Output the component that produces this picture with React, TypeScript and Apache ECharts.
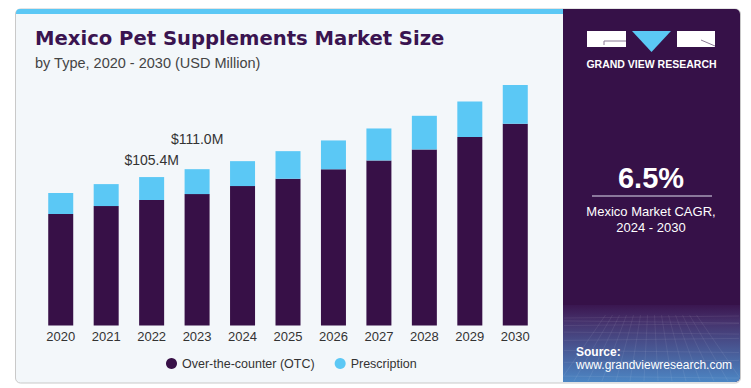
import React, { useEffect, useRef } from "react";
import * as echarts from "echarts";

const years = ["2020", "2021", "2022", "2023", "2024", "2025", "2026", "2027", "2028", "2029", "2030"];
const otc = [79.1, 84.8, 89.1, 93.3, 99.0, 104.2, 110.9, 117.2, 125.0, 133.8, 143.2];
const prescription = [14.9, 15.6, 16.3, 17.7, 17.7, 19.6, 20.5, 22.7, 23.9, 25.3, 27.5];
const labeledYears: Record<string, number> = { "2022": 10, "2023": 23 };

const PURPLE = "#371047";
const CYAN = "#5bc8f5";
const FONT = "'Liberation Sans', Arial, sans-serif";

export default function App() {
  const ref = useRef<HTMLDivElement>(null);
  useEffect(() => {
    if (!ref.current) return;
    const chart = echarts.init(ref.current, null, { renderer: "svg" });

    const gridLines: any[] = [];
    for (let i = 0; i < 9; i++) {
      const y = 318 + i * i * 0.9 + i * 2;
      gridLines.push({
        type: "line",
        shape: { x1: 564, y1: y, x2: 739, y2: y + (i % 2 ? 2 : -2) },
        style: { stroke: "rgba(255,255,255,0.07)", lineWidth: 1 },
        silent: true,
      });
    }
    for (let j = 0; j < 14; j++) {
      const xb = 560 + j * 14;
      gridLines.push({
        type: "line",
        shape: { x1: 651 + (xb - 651) * 0.5, y1: 315, x2: xb, y2: 381 },
        style: { stroke: "rgba(255,255,255,0.07)", lineWidth: 1 },
        silent: true,
      });
    }

    chart.setOption({
      animation: false,
      textStyle: { fontFamily: FONT },
      graphic: [
        {
          type: "rect",
          z: -10,
          shape: { x: 15.5, y: 9, width: 725, height: 374, r: 5 },
          style: { fill: "#f3f7fa", stroke: "#c9c9c9", lineWidth: 1 },
          silent: true,
        },
        {
          type: "rect",
          z: -9,
          shape: { x: 16, y: 9, width: 548, height: 5, r: [4, 0, 0, 0] },
          style: { fill: CYAN },
          silent: true,
        },
        {
          type: "rect",
          z: -9,
          shape: { x: 563, y: 9, width: 177, height: 373, r: [0, 5, 5, 0] },
          style: { fill: "#361148" },
          silent: true,
        },
        {
          type: "rect",
          z: -8,
          shape: { x: 563, y: 305, width: 177, height: 77, r: [0, 0, 5, 0] },
          style: {
            fill: new echarts.graphic.LinearGradient(0, 0, 0, 1, [
              { offset: 0, color: "#3a1650" },
              { offset: 0.2, color: "#45306a" },
              { offset: 1, color: "#4c86c4" },
            ]),
          },
          silent: true,
        },
        ...gridLines,
        {
          type: "text",
          left: 35,
          top: 28,
          style: {
            text: "Mexico Pet Supplements Market Size",
            font: "bold 19.6px 'DejaVu Sans', sans-serif",
            fill: "#3a1450",
          },
        },
        {
          type: "text",
          left: 35,
          top: 55,
          style: {
            text: "by Type, 2020 - 2030 (USD Million)",
            font: "14.5px " + FONT,
            fill: "#444444",
          },
        },
        { type: "rect", shape: { x: 587, y: 31, width: 39, height: 16 }, style: { fill: "#ffffff" } },
        { type: "polyline", shape: { points: [[604, 45], [604, 41], [626, 41]] }, style: { stroke: "#8a7a95", lineWidth: 1, fill: null } },
        { type: "polygon", shape: { points: [[632, 31], [671, 31], [651.5, 52]] }, style: { fill: CYAN } },
        { type: "rect", shape: { x: 677, y: 31, width: 38, height: 16 }, style: { fill: "#ffffff" } },
        { type: "line", shape: { x1: 701, y1: 40, x2: 715, y2: 46 }, style: { stroke: "#8a7a95", lineWidth: 1 } },
        {
          type: "text",
          x: 651.5,
          y: 63.5,
          style: {
            text: "GRAND VIEW RESEARCH",
            font: "bold 10.5px " + FONT,
            fill: "#ffffff",
            align: "center",
            verticalAlign: "middle",
          },
        },
        {
          type: "text",
          x: 651,
          y: 178,
          style: {
            text: "6.5%",
            font: "bold 29px " + FONT,
            fill: "#ffffff",
            align: "center",
            verticalAlign: "middle",
          },
        },
        { type: "line", shape: { x1: 592, y1: 196, x2: 712, y2: 196 }, style: { stroke: "#a99bb8", lineWidth: 1.5 } },
        {
          type: "text",
          x: 651,
          y: 211,
          style: {
            text: "Mexico Market CAGR,",
            font: "13px " + FONT,
            fill: "#ffffff",
            align: "center",
            verticalAlign: "middle",
          },
        },
        {
          type: "text",
          x: 651,
          y: 227,
          style: {
            text: "2024 - 2030",
            font: "13px " + FONT,
            fill: "#ffffff",
            align: "center",
            verticalAlign: "middle",
          },
        },
        {
          type: "text",
          x: 576,
          y: 352,
          style: {
            text: "Source:",
            font: "bold 12px " + FONT,
            fill: "#ffffff",
            verticalAlign: "middle",
          },
        },
        {
          type: "text",
          x: 576,
          y: 365,
          style: {
            text: "www.grandviewresearch.com",
            font: "12px " + FONT,
            fill: "#ffffff",
            verticalAlign: "middle",
          },
        },
      ],
      grid: { left: 38, right: 213, top: 72, bottom: 62.5 },
      legend: {
        data: ["Over-the-counter (OTC)", "Prescription"],
        left: 161,
        top: 352,
        icon: "circle",
        itemWidth: 11,
        itemHeight: 11,
        itemGap: 20,
        textStyle: { fontSize: 12.5, color: "#333333", fontFamily: FONT },
      },
      xAxis: {
        type: "category",
        data: years,
        axisLine: { show: false },
        axisTick: { show: false },
        axisLabel: { color: "#333333", fontSize: 13, margin: 4, fontFamily: FONT },
      },
      yAxis: {
        type: "value",
        min: 0,
        max: 180,
        show: false,
        splitLine: { show: false },
      },
      series: [
        {
          name: "Over-the-counter (OTC)",
          type: "bar",
          stack: "total",
          barWidth: 25,
          data: otc,
          itemStyle: { color: PURPLE },
        },
        {
          name: "Prescription",
          type: "bar",
          stack: "total",
          barWidth: 25,
          itemStyle: { color: CYAN },
          data: prescription.map((v, i) => {
            const d = labeledYears[years[i]];
            if (d === undefined) return v;
            return {
              value: v,
              label: {
                show: true,
                position: "top",
                distance: d,
                formatter: () => `$${(otc[i] + prescription[i]).toFixed(1)}M`,
                fontSize: 14,
                color: "#333333",
                fontFamily: FONT,
              },
            };
          }),
        },
      ],
    });
    return () => chart.dispose();
  }, []);

  return (
    <div
      ref={ref}
      style={{ position: "absolute", left: 0, top: 0, width: 751, height: 388, background: "#ffffff" }}
    />
  );
}
